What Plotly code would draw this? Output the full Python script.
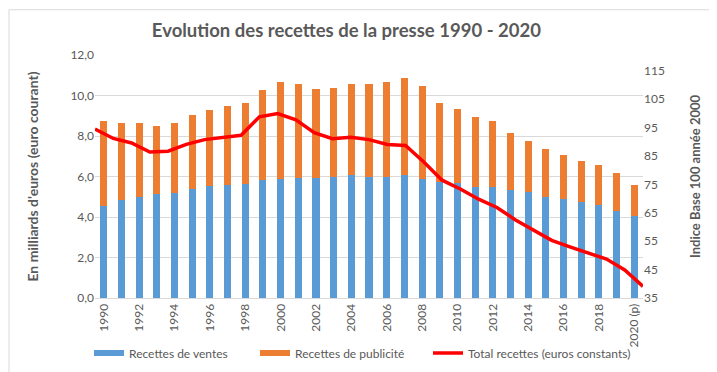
import plotly.graph_objects as go

years = [str(y) for y in range(1990, 2020)] + ["2020 (p)"]
line_years = list(range(1990, 2021))
ventes = [4.55, 4.83, 5.01, 5.14, 5.19, 5.38, 5.53, 5.59, 5.61, 5.84, 5.89, 5.93, 5.93, 6.00, 6.05,
          6.00, 5.98, 6.05, 5.89, 5.74, 5.69, 5.48, 5.48, 5.32, 5.24, 5.01, 4.88, 4.75, 4.60, 4.31, 4.03]
totaux = [8.72, 8.65, 8.65, 8.49, 8.62, 9.02, 9.30, 9.46, 9.63, 10.29, 10.65, 10.57, 10.34, 10.37, 10.57,
          10.57, 10.68, 10.88, 10.46, 9.63, 9.33, 8.96, 8.72, 8.16, 7.76, 7.38, 7.07, 6.78, 6.55, 6.16, 5.58]
publicite = [round(t - v, 2) for t, v in zip(totaux, ventes)]
indice = [94.5, 91.2, 89.6, 86.4, 86.7, 89.1, 90.8, 91.6, 92.3, 98.8, 100.0, 97.8, 93.2, 91.1, 91.6,
          90.8, 89.1, 88.7, 82.9, 76.5, 73.4, 69.8, 66.9, 62.6, 58.9, 55.3, 53.0, 50.8, 48.7, 44.9, 39.1]
tick_years = years[::2]
right_ticks = list(range(35, 116, 10))

FONT = "Lato"
GREY = "#595959"
BLUE, ORANGE, RED = "#5B9BD5", "#ED7D31", "#FF0000"

fig = go.Figure()
fig.add_trace(go.Bar(x=years, y=ventes, name="Recettes de ventes", marker_color=BLUE,
                     marker_line_width=0, showlegend=False))
fig.add_trace(go.Bar(x=years, y=publicite, name="Recettes de publicité", marker_color=ORANGE,
                     marker_line_width=0, showlegend=False))
fig.add_trace(go.Scatter(x=line_years, y=indice, name="Total recettes (euros constants)",
                         mode="lines", line=dict(color=RED, width=3.5),
                         xaxis="x2", yaxis="y2", showlegend=False))
# legend entries (Excel style wide swatches)
for name, col, w, lw in [("Recettes de ventes", BLUE, 6, 121), ("Recettes de publicité", ORANGE, 6, 128),
                         ("Total recettes (euros constants)", RED, 3.5, 200)]:
    fig.add_trace(go.Scatter(x=[None], y=[None], name=name, mode="lines",
                             line=dict(color=col, width=w), showlegend=True, legendwidth=lw))

W, H = 717, 372
L, R, T, B = 87, 82, 47, 78
pw, ph = W - L - R, H - T - B

fig.update_layout(
    width=W, height=H,
    margin=dict(l=L, r=R, t=T, b=B),
    paper_bgcolor="white", plot_bgcolor="white",
    barmode="stack", bargap=0.6,
    separators=", ",
    font=dict(family=FONT, color=GREY, size=12),
    title=dict(text="<b>Evolution des recettes de la presse 1990 - 2020</b>",
               x=0.472, xanchor="center", y=0.94, yanchor="middle",
               font=dict(size=18.5, color=GREY, family=FONT)),
    xaxis=dict(type="category", tickvals=tick_years, ticktext=tick_years, tickangle=-90,
               showgrid=False, showline=True, linecolor="#D9D9D9", ticks="",
               tickfont=dict(size=12, color=GREY)),
    xaxis2=dict(overlaying="x", range=[1990, 2020], visible=False, anchor="y2"),
    yaxis=dict(range=[0, 12], dtick=2, tickformat=".1f", showgrid=True, gridcolor="#D9D9D9",
               zeroline=False, ticks="", tickfont=dict(size=12, color=GREY),
               title=dict(text="<b>En milliards d'euros (euro courant)</b>",
                          font=dict(size=14, color=GREY), standoff=28)),
    yaxis2=dict(overlaying="y", side="right", range=[35, 120.6], tickvals=right_ticks,
                showgrid=False, zeroline=False, ticks="", tickfont=dict(size=12, color=GREY),
                anchor="x2",
                title=dict(text="<b>Indice Base 100 année 2000</b>",
                           font=dict(size=13, color=GREY), standoff=26)),
    legend=dict(orientation="h", x=-6 / pw, xanchor="left", y=-(350 - (T + ph)) / ph,
                yanchor="middle", font=dict(size=12, color=GREY), traceorder="normal",
                itemwidth=30, bgcolor="rgba(0,0,0,0)"),
)

fig.add_shape(type="rect", xref="paper", yref="paper",
              x0=-(L - 1) / pw, x1=(W - L - 2) / pw, y0=-(B - 2) / ph, y1=1 + (T - 1) / ph,
              line=dict(color="#D9D9D9", width=1), fillcolor="rgba(0,0,0,0)", layer="below")

fig.write_html("out.html")
